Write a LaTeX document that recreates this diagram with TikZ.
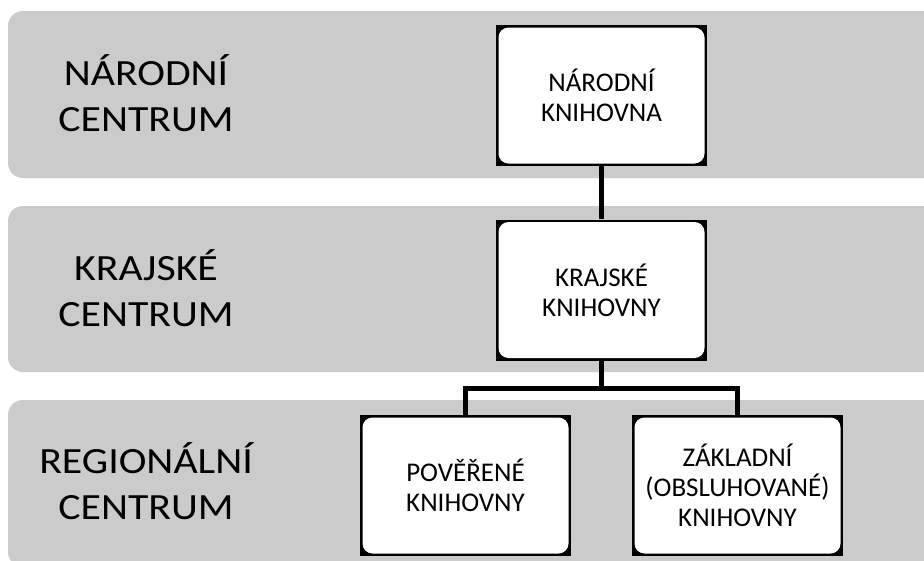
\documentclass[tikz,border=0pt]{standalone}
\usepackage{fontspec}
\setmainfont{Carlito}
\newfontfamily\sirokepismo[FakeStretch=1.13]{Carlito}
\definecolor{sedapasmo}{HTML}{CBCBCB}
\tikzset{
	pasmo/.style={fill=sedapasmo, rounded corners=15pt},
	uroven/.style={align=center, font=\sirokepismo\fontsize{37}{46}\selectfont},
	knihovna/.style={rectangle, fill=black, minimum width=211pt, minimum height=141pt, inner sep=0pt, align=center, font=\fontsize{27}{30}\selectfont,
		path picture={\fill[white, rounded corners=10pt] ([shift={(2.5pt,2.5pt)}]path picture bounding box.south west) rectangle ([shift={(-2.5pt,-2.5pt)}]path picture bounding box.north east);}},
	spoj/.style={line width=5pt}
}
\begin{document}
\begin{tikzpicture}[x=1pt, y=-1pt]
		\useasboundingbox (0,0) rectangle (924,560);
		\clip (0,0) rectangle (924,560);
		
		% pasma
		\fill[pasmo] (8,11) rectangle (950,178);
		\fill[pasmo] (8,206) rectangle (950,372);
		\fill[pasmo] (8,400) rectangle (950,567);
		
		\node[uroven] (narodni) at (146,93) {NÁRODNÍ\\CENTRUM};
		\node[uroven] (krajske) at (146,288) {KRAJSKÉ\\CENTRUM};
		\node[uroven] (regionalni) at (146,481) {REGIONÁLNÍ\\CENTRUM};
		
		\node[knihovna] (nk) at (601.5,95.5) {NÁRODNÍ\\KNIHOVNA};
		\node[knihovna] (kk) at (601.5,290) {KRAJSKÉ\\KNIHOVNY};
		\node[knihovna] (pk) at (465.5,485.5) {POVĚŘENÉ\\KNIHOVNY};
		\node[knihovna] (zk) at (737.5,485.5) {ZÁKLADNÍ\\(OBSLUHOVANÉ)\\KNIHOVNY};
		
		\draw[spoj] (nk) -- (kk);
		\coordinate (rozcesti) at (601.5,388);
		\draw[spoj] (kk) -- (rozcesti);
		\draw[spoj] (pk.north) |- (rozcesti) -| (zk.north);
		\end{tikzpicture}
\end{document}
